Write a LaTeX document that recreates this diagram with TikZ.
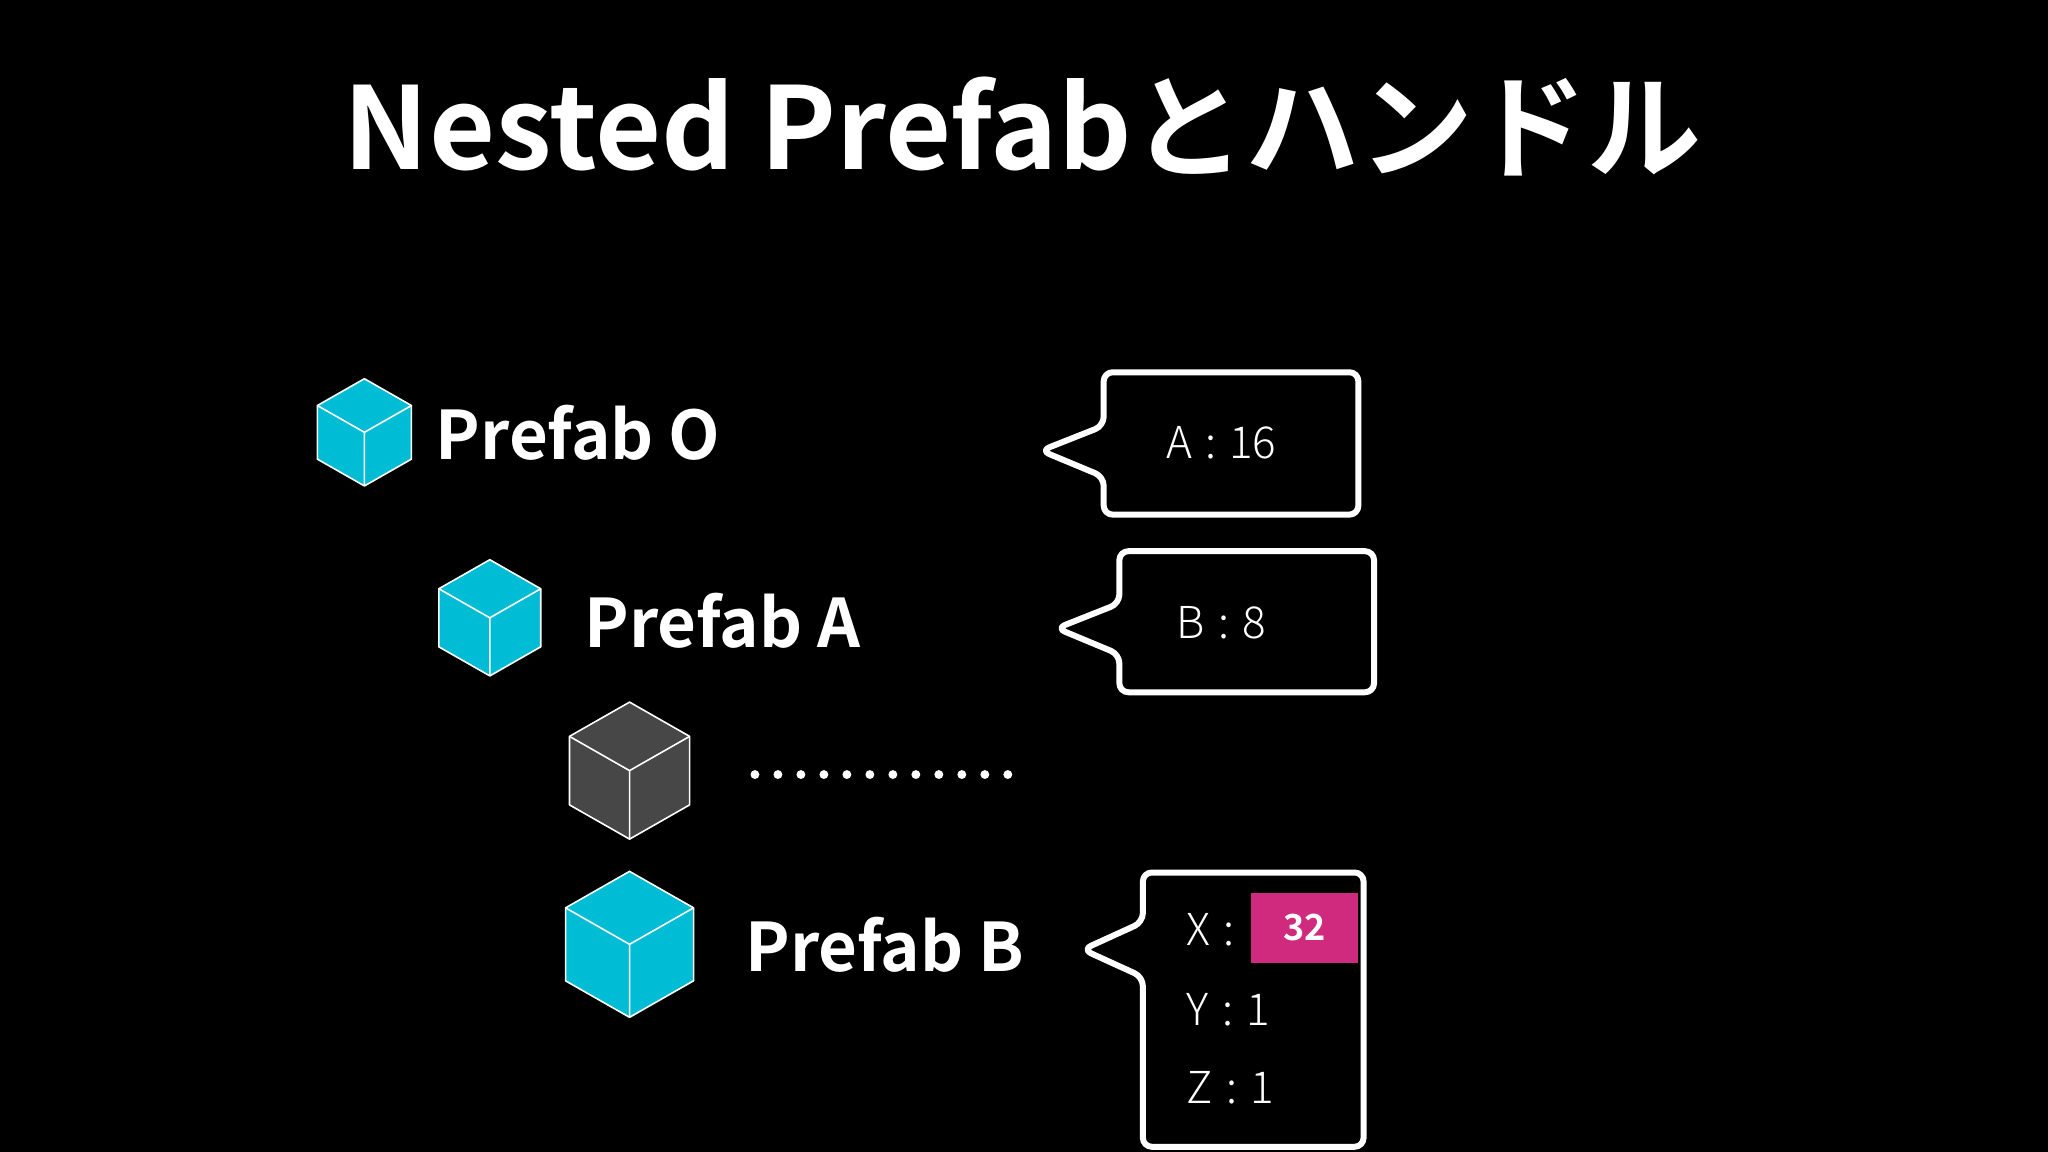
\documentclass[tikz,border=0pt]{standalone}
\usepackage{fontspec}
\setmainfont{Noto Sans CJK JP}
\newfontfamily\bold{Noto Sans CJK JP Bold}
\newfontfamily\light{Noto Sans CJK JP Light}
\definecolor{cub}{HTML}{00BCD4}
\definecolor{mag}{HTML}{D02A7E}
\newcommand\mycube[4]{% x y halfwidth fill
  \begin{scope}[shift={(#1,#2)}]
  \filldraw[fill=#4,draw=white,line width=1.6pt,line join=round]
    (0,-1.14*#3)--(-#3,-0.57*#3)--(-#3,0.57*#3)--(0,1.14*#3)--(#3,0.57*#3)--(#3,-0.57*#3)--cycle;
  \draw[white,line width=1.6pt,line join=round] (-#3,-0.57*#3)--(0,0)--(#3,-0.57*#3) (0,0)--(0,1.14*#3);
  \end{scope}}
\newcommand\cl{\hspace{0.3em}:\hspace{0.3em}}
\tikzset{lbl/.style={anchor=west,text=white,font=\bold\fontsize{67}{70}\selectfont},
 call/.style={draw=white,line width=6pt,rounded corners=9pt,line join=round},
 val/.style={text=white,font=\light\fontsize{44}{46}\selectfont}}
\begin{document}
\begin{tikzpicture}[x=1.306pt,y=-1.306pt]
\fill[black] (0,0) rectangle (1568,882);
\useasboundingbox (0,0) rectangle (1568,882);
\node[text=white,font=\bold\fontsize{114}{118}\selectfont] (title) at (783,97) {Nested Prefabとハンドル};
\mycube{279}{331}{36}{cub}
\mycube{375}{473}{39}{cub}
\mycube{482}{590}{46}{black!72}
\mycube{482}{723}{49}{cub}
\node[lbl] (po) at (331,331) {Prefab O};
\node[lbl] (pa) at (445,475) {Prefab A};
\node[lbl] (pb) at (568,723) {Prefab B};
\foreach \i in {0,...,11} \fill[white] (578+\i*17.6,593) circle (3.4);
\draw[call] (845,326)--(845,285)--(1040,285)--(1040,394)--(845,394)--(845,365)--(797,345)--cycle;
\draw[call] (857,462)--(857,422)--(1052,422)--(1052,530)--(857,530)--(857,501)--(809,481)--cycle;
\draw[call] (875,706)--(875,668)--(1044,668)--(1044,878)--(875,878)--(875,748)--(829,727)--cycle;
\node[val] (va) at (935,339) {A\cl 16};
\node[val] (vb) at (935,477) {B\cl 8};
\fill[mag] (958,684) rectangle (1040,737);
\node[val,anchor=west] (vx) at (906,712) {X\cl};
\node[text=white,font=\bold\fontsize{36}{38}\selectfont] (v32) at (999,710) {32};
\node[val,anchor=west] (vy) at (906,773) {Y\cl 1};
\node[val,anchor=west] (vz) at (906,833) {Z\cl 1};
\end{tikzpicture}
\end{document}
